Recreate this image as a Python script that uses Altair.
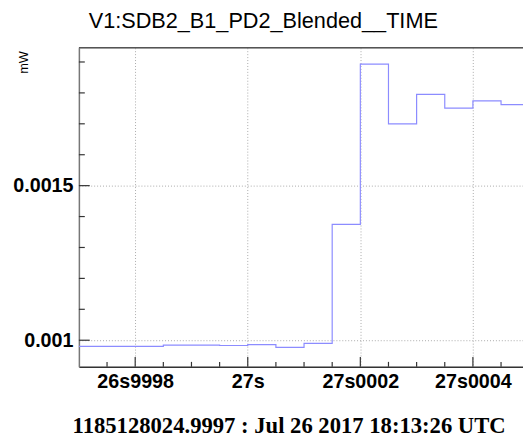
import altair as alt
import pandas as pd

# time offsets in microseconds relative to 27 s, and bin values in mW
bin_start_us = [-300, -250, -200, -150, -100, -50, 0, 50, 100, 150, 200, 250, 300, 350, 400, 450, 500]
values_mw = [0.00098, 0.00098, 0.00098, 0.000984, 0.000984, 0.000983, 0.000986, 0.000977,
             0.00099, 0.001375, 0.001893, 0.0017, 0.001795, 0.001751, 0.001774, 0.001762, 0.001762]

x_major = [-200, 0, 200, 400]
x_major_labels = ["26s9998", "27s", "27s0002", "27s0004"]
x_minor = [-250, -150, -100, -50, 50, 100, 150, 250, 300, 350, 450]
y_major = [0.001, 0.0015]
y_minor = [0.0011, 0.0012, 0.0013, 0.0014, 0.0016, 0.0017, 0.0018, 0.0019]

title_text = "V1:SDB2_B1_PD2_Blended__TIME"
bottom_text = "1185128024.9997 : Jul 26 2017 18:13:26 UTC"
y_unit = "mW"

W, H = 451, 324
x_dom = [-300, 489]
y_dom = [0.000914, 0.001946]

df = pd.DataFrame({"t": bin_start_us, "v": values_mw})

label_expr = " : ".join(
    [f"datum.value == {v} ? '{l}'" for v, l in zip(x_major, x_major_labels)]
) + " : ''"

xs = alt.Scale(domain=x_dom, nice=False, zero=False)
ys = alt.Scale(domain=y_dom, nice=False, zero=False)

base_x_axis = alt.Axis(
    values=x_major, labelExpr=label_expr, grid=True, gridDash=[1, 2], gridColor="#aaaaaa",
    gridWidth=1, ticks=False, domainColor="#333333", domainWidth=1.5,
    labelFont="Liberation Sans", labelFontWeight="bold", labelFontSize=20, labelColor="black",
    labelPadding=5, labelFlush=False,
    title=bottom_text, titleFont="Liberation Serif", titleFontWeight="bold", titleFontSize=23,
    titleColor="black", titleX=213, titleY=67, titleBaseline="alphabetic", titleAlign="center",
)
base_y_axis = alt.Axis(
    values=y_major, grid=True, gridDash=[1, 2], gridColor="#aaaaaa", gridWidth=1,
    ticks=False, domainColor="#777777", domainWidth=1.5,
    labelFont="Liberation Sans", labelFontWeight="bold", labelFontSize=20, labelColor="black",
    labelPadding=6, labelFlush=False, format="~g",
    title=y_unit, titleFont="Liberation Sans", titleFontWeight="normal", titleFontSize=13,
    titleColor="black", titleAngle=270, titleAlign="left", titleBaseline="middle",
    titleX=-56, titleY=26,
)

line = alt.Chart(df).mark_line(interpolate="step-after", color="#8c8cff", strokeWidth=1.2, clip=True).encode(
    x=alt.X("t:Q", scale=xs, axis=base_x_axis),
    y=alt.Y("v:Q", scale=ys, axis=base_y_axis),
)

xmaj = alt.Chart(pd.DataFrame({"t": x_major})).mark_rule(color="#333333", strokeWidth=1.2).encode(
    x=alt.X("t:Q", scale=xs), y=alt.value(H), y2=alt.value(H - 10))
xmin = alt.Chart(pd.DataFrame({"t": x_minor})).mark_rule(color="#333333", strokeWidth=1.2).encode(
    x=alt.X("t:Q", scale=xs), y=alt.value(H), y2=alt.value(H - 5))
ymaj = alt.Chart(pd.DataFrame({"v": y_major})).mark_rule(color="#333333", strokeWidth=1.2).encode(
    y=alt.Y("v:Q", scale=ys), x=alt.value(0), x2=alt.value(11))
ymin = alt.Chart(pd.DataFrame({"v": y_minor})).mark_rule(color="#333333", strokeWidth=1.2).encode(
    y=alt.Y("v:Q", scale=ys), x=alt.value(0), x2=alt.value(6))
top = alt.Chart(pd.DataFrame({"a": [0]})).mark_rule(color="#555555", strokeWidth=1.5).encode(
    y=alt.value(0), x=alt.value(0), x2=alt.value(W))

chart = alt.layer(line, xmaj, xmin, ymaj, ymin, top).properties(
    width=W, height=H,
    title=alt.TitleParams(
        title_text, anchor="start", frame="group", dx=10, offset=-8, baseline="bottom",
        font="Liberation Sans", fontSize=22, fontWeight="normal", color="black",
    ),
    autosize=alt.AutoSizeParams(type="none"),
    padding={"left": 72, "top": 37, "right": 0, "bottom": 74},
).configure_view(stroke=None).configure(background="white")

chart.save("out.html", embed_options={"renderer": "svg", "actions": False})
